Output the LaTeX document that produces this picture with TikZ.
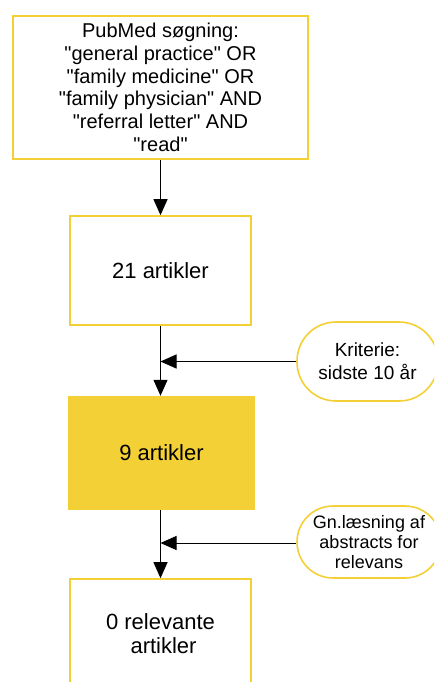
\documentclass[tikz,border=0pt]{standalone}
\usepackage{fontspec}
\setmainfont{Liberation Sans}[Ligatures=TeXOff]
\usetikzlibrary{arrows.meta}
\definecolor{gul}{RGB}{244,208,55}
\begin{document}
\begin{tikzpicture}[x=1pt,y=-1pt,
  box/.style={draw=gul, line width=1.6pt, fill=white, rectangle, align=center, inner sep=0pt},
  fillbox/.style={fill=gul, rectangle, align=center, inner sep=0pt},
  pill/.style={draw=gul, line width=1.6pt, fill=white, rectangle, align=center, inner sep=0pt},
  conn/.style={line width=1pt, -{Triangle[length=16pt,width=14pt]}}
]
\useasboundingbox (0,0) rectangle (434,682);
\clip (0,0) rectangle (434,682);
\fill[white] (0,0) rectangle (434,682);

\node[box, minimum width=295pt, minimum height=143pt, font=\fontsize{20}{22.7}\selectfont] (q) at (160.5,87.5)
  {PubMed søgning:\\"general practice" OR\\"family medicine" OR\\"family physician" AND\\"referral letter" AND\\"read"};
\node[box, minimum width=181pt, minimum height=109pt, font=\fontsize{22}{24}\selectfont] (b21) at (160.5,270.5) {21 artikler};
\node[fillbox, minimum width=187pt, minimum height=114pt, font=\fontsize{22}{24}\selectfont] (b9) at (161.5,453) {9 artikler};
\node[box, minimum width=181pt, minimum height=110pt, font=\fontsize{22}{24}\selectfont] (b0) at (160.5,634) {0 relevante\\\ artikler};

\node[pill, rounded corners=39pt, minimum width=141pt, minimum height=79pt, font=\fontsize{19}{22.7}\selectfont] (k1) at (367.5,361.5) {Kriterie:\\sidste 10 år};
\node[pill, rounded corners=36pt, minimum width=144pt, minimum height=72pt, font=\fontsize{18}{20}\selectfont] (k2) at (369,542) {Gn.læsning af\\abstracts for\\relevans};

\coordinate (j1) at (160.5,361.5);
\coordinate (j2) at (160.5,543);

\draw[conn] (q.south) -- (b21.north);
\draw[conn] (b21.south) -- (b9.north -| b21.south);
\draw[conn] (b9.south -| b21.south) -- (b0.north);
\draw[conn] (k1.west) -- (j1);
\draw[conn] (k2.west |- j2) -- (j2);
\end{tikzpicture}
\end{document}
